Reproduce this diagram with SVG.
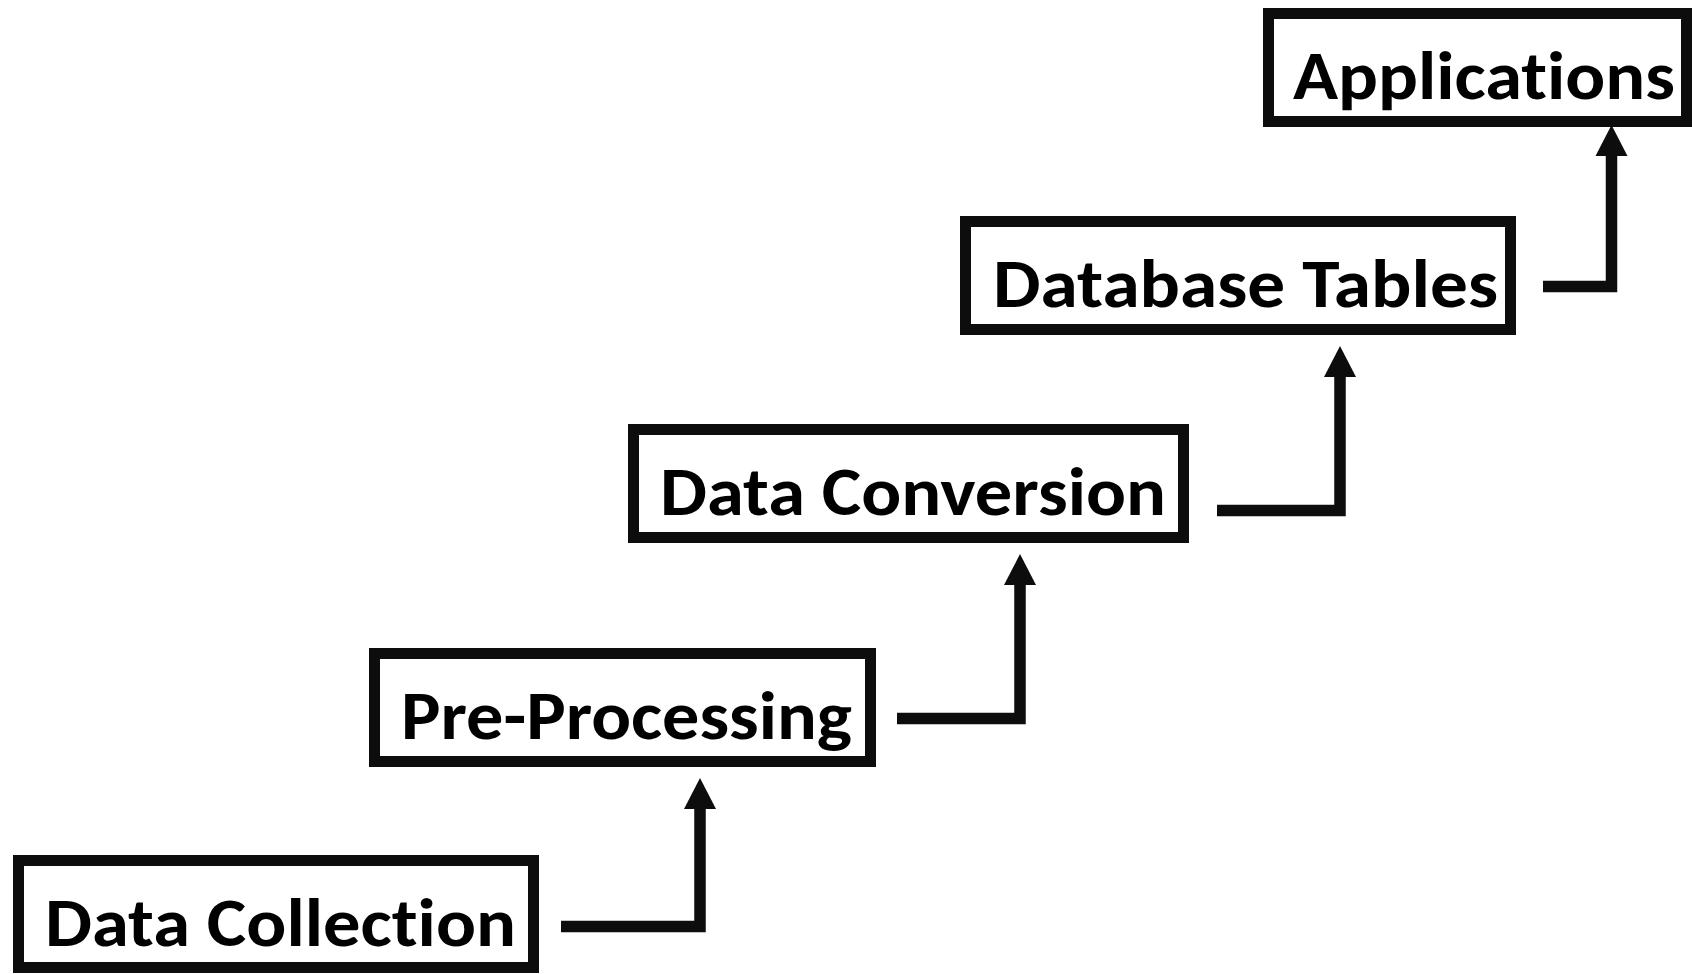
<svg xmlns="http://www.w3.org/2000/svg" width="1692" height="974" viewBox="0 0 1692 974">
<style>
.box{fill:#fff;stroke:#0d0d0d;stroke-width:11}
.lbl{font-family:Carlito,Lato,"Open Sans",sans-serif;font-weight:bold;font-size:68px;fill:#000;font-variant-ligatures:none;font-feature-settings:"liga" 0}
.conn{fill:none;stroke:#0d0d0d;stroke-width:11.5;stroke-linejoin:miter;stroke-linecap:butt}
.head{fill:#0d0d0d}
</style>
<rect width="1692" height="974" fill="#fff"/>
<g id="node-data-collection">
<rect class="box" x="18.5" y="860.5" width="515" height="107"/>
<text class="lbl" x="45" y="946" textLength="471" lengthAdjust="spacingAndGlyphs">Data Collection</text>
</g>
<g id="node-pre-processing">
<rect class="box" x="374.5" y="653.5" width="496" height="108"/>
<text class="lbl" x="401" y="739" textLength="451" lengthAdjust="spacingAndGlyphs">Pre-Processing</text>
</g>
<g id="node-data-conversion">
<rect class="box" x="633.5" y="429.5" width="550" height="108"/>
<text class="lbl" x="660" y="515" textLength="506" lengthAdjust="spacingAndGlyphs">Data Conversion</text>
</g>
<g id="node-database-tables">
<rect class="box" x="965.5" y="221.5" width="545" height="108"/>
<text class="lbl" x="993" y="307" textLength="505" lengthAdjust="spacingAndGlyphs">Database Tables</text>
</g>
<g id="node-applications">
<rect class="box" x="1268.5" y="13.5" width="418" height="108"/>
<text class="lbl" x="1293" y="99" textLength="382" lengthAdjust="spacingAndGlyphs">Applications</text>
</g>
<g id="connectors">
<path class="conn" d="M561,926.5 H700 V807"/>
<polygon class="head" points="684,809 716,809 700,778"/>
<path class="conn" d="M897,718.5 H1020 V583"/>
<polygon class="head" points="1004,585 1036,585 1020,554"/>
<path class="conn" d="M1217,510.5 H1340 V375"/>
<polygon class="head" points="1324,377 1356,377 1340,346"/>
<path class="conn" d="M1543,286.5 H1611.5 V154"/>
<polygon class="head" points="1595.5,156 1627.5,156 1611.5,125"/>
</g>
</svg>
